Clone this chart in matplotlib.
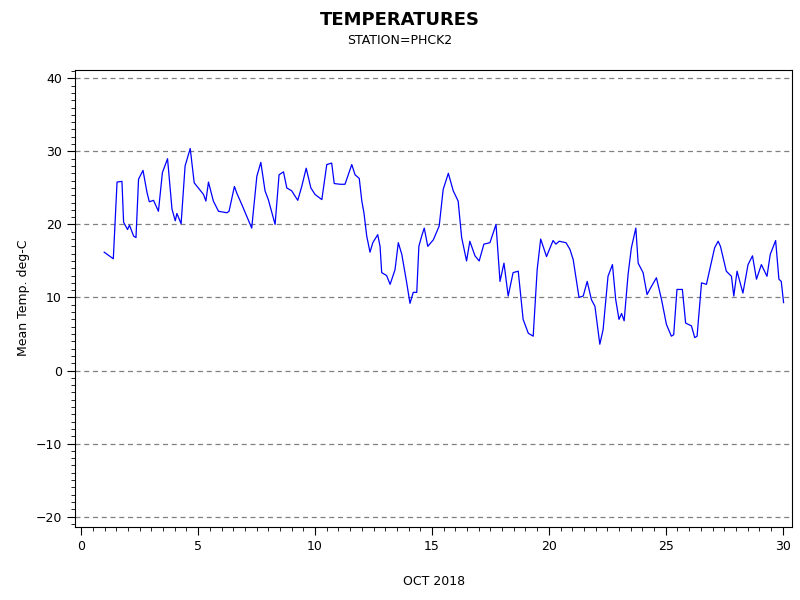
import matplotlib
matplotlib.use("Agg")
import matplotlib.pyplot as plt
from matplotlib.ticker import MultipleLocator

# day of October 2018 (fractional) and mean temperature
days = [0.98, 1.15, 1.37, 1.53, 1.74, 1.81, 1.98, 2.06, 2.24, 2.34, 2.45, 2.64, 2.81, 2.91,
        3.09, 3.30, 3.47, 3.69, 3.88, 4.02, 4.09, 4.27, 4.44, 4.66, 4.83, 5.23, 5.33, 5.44,
        5.65, 5.87, 6.23, 6.32, 6.55, 6.65, 6.87, 7.08, 7.29, 7.51, 7.68, 7.86, 8.00, 8.29,
        8.46, 8.65, 8.79, 9.00, 9.26, 9.43, 9.62, 9.82, 10.00, 10.29, 10.50, 10.71, 10.82,
        11.07, 11.28, 11.57, 11.71, 11.89, 12.00, 12.09, 12.21, 12.35, 12.47, 12.68, 12.78,
        12.85, 13.06, 13.21, 13.42, 13.56, 13.71, 13.92, 14.06, 14.20, 14.35, 14.44, 14.56,
        14.67, 14.82, 15.06, 15.31, 15.48, 15.70, 15.91, 16.12, 16.27, 16.48, 16.62, 16.84,
        17.02, 17.22, 17.48, 17.74, 17.91, 18.08, 18.26, 18.47, 18.69, 18.90, 19.12, 19.33,
        19.50, 19.65, 19.90, 20.18, 20.30, 20.44, 20.73, 20.90, 21.04, 21.29, 21.47, 21.64,
        21.82, 21.97, 22.18, 22.32, 22.53, 22.72, 22.86, 23.00, 23.11, 23.22, 23.39, 23.53,
        23.72, 23.82, 24.03, 24.20, 24.35, 24.60, 24.82, 25.03, 25.24, 25.34, 25.48, 25.71,
        25.85, 26.10, 26.24, 26.34, 26.53, 26.74, 26.88, 27.09, 27.24, 27.34, 27.59, 27.81,
        27.91, 28.05, 28.30, 28.52, 28.71, 28.88, 29.09, 29.33, 29.47, 29.70, 29.84, 29.94,
        30.04]
temps = [16.2, 15.8, 15.3, 25.8, 25.9, 20.3, 19.3, 19.9, 18.4, 18.2, 26.2, 27.4, 24.4,
         23.1, 23.3, 21.8, 27.1, 29.0, 22.1, 20.5, 21.5, 20.1, 28.0, 30.4, 25.7, 24.1, 23.2,
         25.8, 23.2, 21.8, 21.6, 21.8, 25.2, 24.3, 22.7, 21.1, 19.5, 26.6, 28.5, 24.6, 23.4,
         20.0, 26.8, 27.2, 25.0, 24.6, 23.3, 25.2, 27.7, 25.0, 24.1, 23.4, 28.2, 28.4, 25.6,
         25.5, 25.5, 28.2, 26.8, 26.3, 23.2, 21.6, 18.4, 16.2, 17.5, 18.6, 17.0, 13.4, 13.0,
         11.8, 13.8, 17.5, 15.9, 12.0, 9.2, 10.7, 10.7, 17.0, 18.4, 19.5, 17.0, 17.9, 19.8,
         24.8, 27.0, 24.6, 23.2, 18.2, 15.0, 17.7, 15.7, 15.0, 17.3, 17.5, 20.0, 12.2, 14.7,
         10.2, 13.4, 13.6, 7.0, 5.1, 4.7, 13.8, 18.0, 15.6, 17.8, 17.3, 17.7, 17.5,
         16.6, 15.2, 10.0, 10.2, 12.2, 9.7, 8.8, 3.6, 5.6, 12.9, 14.5, 9.7, 7.0, 7.8, 6.8,
         13.2, 16.8, 19.5, 14.7, 13.4, 10.4, 11.3, 12.7, 9.7, 6.3, 4.7, 4.9, 11.1, 11.1, 6.5,
         6.1, 4.5, 4.7, 12.0, 11.8, 13.8, 16.8, 17.7, 17.0, 13.6, 12.9, 10.2, 13.6, 10.6,
         14.5, 15.7, 12.5, 14.5, 12.9, 15.9, 17.8, 12.5, 12.2, 9.3]

fig = plt.figure(figsize=(8, 6), dpi=100)
ax = fig.add_axes([0.094, 0.122, 0.896, 0.762])

ax.plot(days, temps, color="blue", linewidth=0.9)

ax.set_xlim(-0.26, 30.4)
ax.set_ylim(-21.4, 41.2)
ax.xaxis.set_major_locator(MultipleLocator(5))
ax.xaxis.set_minor_locator(MultipleLocator(0.5))
ax.yaxis.set_major_locator(MultipleLocator(10))
ax.yaxis.set_minor_locator(MultipleLocator(1))
ax.tick_params(labelsize=9)
ax.tick_params(which="major", length=6)
ax.tick_params(which="minor", length=3)
ax.grid(axis="y", which="major", linestyle=(0, (4, 3)), color="gray", linewidth=0.9)

ax.set_xlabel("OCT 2018", fontsize=9, labelpad=16)
ax.set_ylabel("Mean Temp. deg-C", fontsize=9)

fig.text(0.5, 0.967, "TEMPERATURES", ha="center", va="center", fontsize=13, fontweight="bold")
fig.text(0.5, 0.933, "STATION=PHCK2", ha="center", va="center", fontsize=9)

fig.savefig("out.png", dpi=100)
